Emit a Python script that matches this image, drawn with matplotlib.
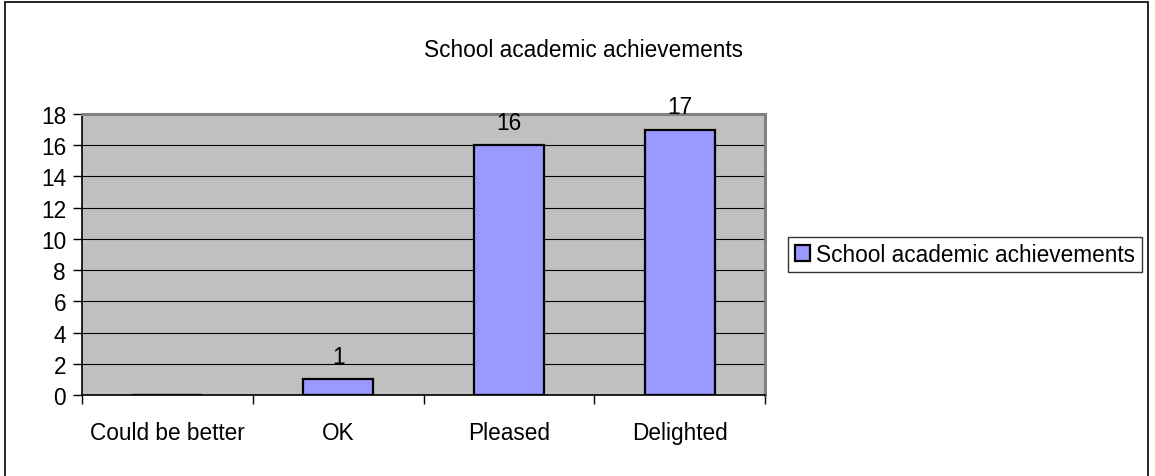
import matplotlib
matplotlib.use('Agg')
import matplotlib.pyplot as plt
from matplotlib.patches import Rectangle, Patch

categories = ['Could be better', 'OK', 'Pleased', 'Delighted']
values = [0, 1, 16, 17]
series_name = 'School academic achievements'
yticks = [0, 2, 4, 6, 8, 10, 12, 14, 16, 18]

plt.rcParams['font.family'] = ['Liberation Sans', 'DejaVu Sans']
FS = 16.3

W, H = 1155, 477
fig = plt.figure(figsize=(W / 100, H / 100), dpi=100)

# outer chart frame
fig.patches.append(Rectangle((5 / W, -0.05), 1143 / W, 1.05 - 3 / H,
                             transform=fig.transFigure, fill=False,
                             edgecolor='black', linewidth=1.2))

left, right, top, bottom = 82, 765, 115, 396
ax = fig.add_axes([left / W, 1 - bottom / H, (right - left) / W, (bottom - top) / H])
ax.set_facecolor('#C0C0C0')

x = range(len(categories))
bars = ax.bar(x, values, width=0.41, color='#9999FF', edgecolor='black',
              linewidth=1.6, label=series_name, zorder=3)

for xi, v in zip(x, values):
    if v > 0:
        ax.annotate(str(v), (xi, v), xytext=(0, 12), textcoords='offset points',
                    ha='center', va='baseline', fontsize=FS)

ax.set_xlim(-0.5, len(categories) - 0.5)
ax.set_ylim(0, 18)
ax.set_yticks(yticks)
ax.set_yticklabels([str(t) for t in yticks], fontsize=FS)
ax.yaxis.grid(True, color='black', linewidth=0.8, zorder=1)
ax.set_axisbelow(True)

# category ticks sit between the bars
ax.set_xticks([i + 0.5 for i in range(-1, len(categories))])
ax.set_xticklabels([])
ax.set_xticks(list(x), minor=True)
ax.set_xticklabels(categories, minor=True, fontsize=FS)
ax.tick_params(axis='x', which='minor', length=0, pad=19)
ax.tick_params(axis='x', which='major', length=6.5, direction='out', width=1)
ax.tick_params(axis='y', length=6.5, direction='out', width=1, pad=5)

for s in ['top', 'right']:
    ax.spines[s].set_color('#808080')
    ax.spines[s].set_linewidth(2.2)
for s in ['left', 'bottom']:
    ax.spines[s].set_color('black')
    ax.spines[s].set_linewidth(1.2)

fig.text(583 / W, 1 - 57 / H, series_name, ha='center', va='baseline', fontsize=FS)

leg = fig.legend(handles=[Patch(facecolor='#9999FF', edgecolor='black', linewidth=1.6,
                                label=series_name)],
                 loc='center', bbox_to_anchor=(965 / W, 1 - 255.5 / H),
                 fontsize=FS, frameon=True, fancybox=False, handlelength=0.66,
                 handleheight=0.66, handletextpad=0.3, borderpad=0.28, borderaxespad=0)
leg.get_frame().set_edgecolor('black')
leg.get_frame().set_linewidth(1.0)

plt.savefig('out.png', dpi=100)
